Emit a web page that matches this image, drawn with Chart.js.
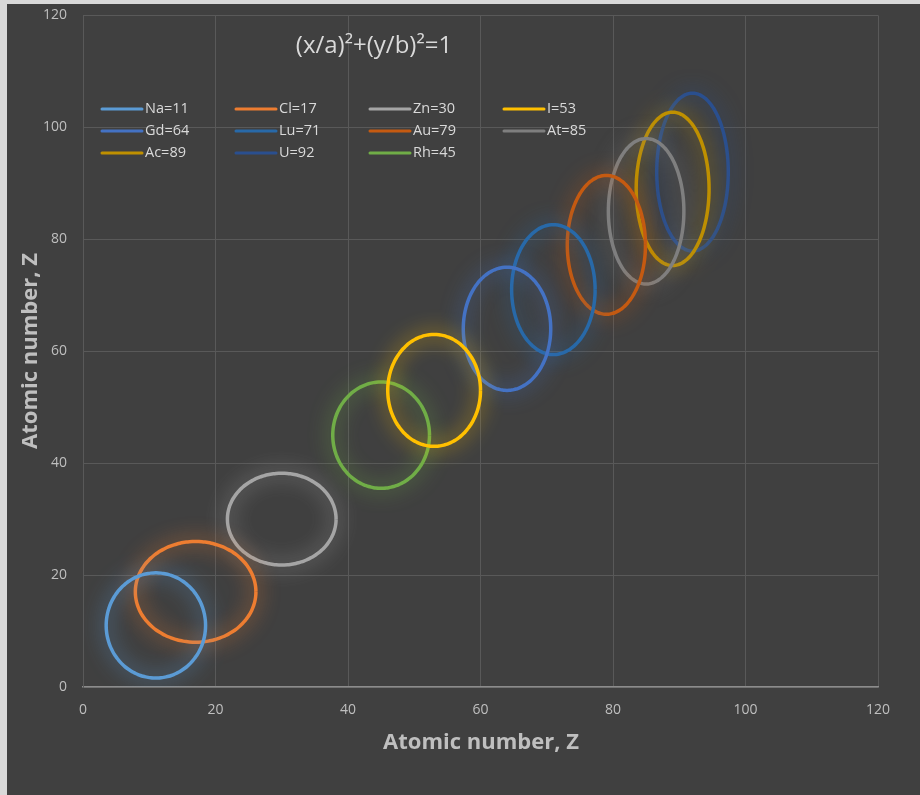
<!doctype html>
<html>
<head>
<meta charset="utf-8" />
<title>Ellipses</title>
<script src="https://cdn.jsdelivr.net/npm/chart.js"></script>
<style>
  html, body { margin: 0; padding: 0; background: #d9d9d9; }
  #wrap { position: absolute; left: 7px; top: 4px; width: 913px; height: 791px; background: #404040; }
</style>
</head>
<body>
<div id="wrap"><canvas id="chart" width="913" height="791"></canvas></div>
<script>
// series: centre (Z, Z), semi-axes a (x) and b (y)
const names  = ['Na=11', 'Cl=17', 'Zn=30', 'I=53', 'Gd=64', 'Lu=71', 'Au=79', 'At=85', 'Ac=89', 'U=92', 'Rh=45'];
const centerZ = [11, 17, 30, 53, 64, 71, 79, 85, 89, 92, 45];
const semiA  = [7.5, 9.1, 8.2, 7.0, 6.6, 6.3, 5.9, 5.7, 5.5, 5.4, 7.3];
const semiB  = [9.4, 9.0, 8.2, 10.0, 11.0, 11.6, 12.4, 13.0, 13.7, 14.1, 9.5];
const colors = ['#5B9BD5', '#ED7D31', '#A5A5A5', '#FFC000', '#4472C4', '#2869A8', '#C55A11', '#7F7F7F', '#BF9000', '#2A4F8F', '#70AD47'];
const axisTicks = [0, 20, 40, 60, 80, 100, 120];

const FONT = '"Open Sans", "Noto Sans", sans-serif';

function ellipse(i) {
  const pts = [];
  for (let k = 0; k <= 120; k++) {
    const t = k / 120 * 2 * Math.PI;
    pts.push({ x: centerZ[i] + semiA[i] * Math.cos(t), y: centerZ[i] + semiB[i] * Math.sin(t) });
  }
  return pts;
}

const datasets = names.map((n, i) => ({
  label: n,
  data: ellipse(i),
  borderColor: colors[i],
  borderWidth: 3.5,
  showLine: true,
  tension: 0.2,
  pointRadius: 0,
  fill: false
}));

// soft glow round each ellipse, like the Excel effect
const glow = {
  id: 'glow',
  beforeDatasetDraw(chart, args) {
    const c = chart.ctx;
    c.save();
    c.shadowColor = colors[args.index];
    c.shadowBlur = 20;
  },
  afterDatasetDraw(chart) {
    chart.ctx.restore();
  }
};

const decor = {
  id: 'decor',
  afterDraw(chart) {
    const c = chart.ctx;
    c.save();
    // formula
    c.fillStyle = '#d9d9d9';
    c.font = '24px ' + FONT;
    c.textAlign = 'center';
    c.textBaseline = 'middle';
    c.fillText('(x/a)²+(y/b)²=1', 367, 42);
    // legend, 4 columns
    c.font = '14.5px ' + FONT;
    c.textAlign = 'left';
    names.forEach((n, i) => {
      const col = i % 4, row = Math.floor(i / 4);
      const x = 95 + col * 134, y = 105 + row * 22;
      c.strokeStyle = colors[i];
      c.lineWidth = 3;
      c.lineCap = 'round';
      c.beginPath();
      c.moveTo(x, y);
      c.lineTo(x + 40, y);
      c.stroke();
      c.fillStyle = '#d9d9d9';
      c.fillText(n, x + 43, y);
    });
    // axis titles
    c.fillStyle = '#bfbfbf';
    c.font = 'bold 22px ' + FONT;
    c.textAlign = 'center';
    c.fillText('Atomic number, Z', 474, 739);
    c.translate(24, 347);
    c.rotate(-Math.PI / 2);
    c.fillText('Atomic number, Z', 0, 0);
    c.restore();
  }
};

new Chart(document.getElementById('chart'), {
  type: 'scatter',
  data: { datasets },
  options: {
    responsive: false,
    animation: false,
    layout: { padding: { top: 2, right: 42, left: 0, bottom: 0 } },
    plugins: { legend: { display: false }, tooltip: { enabled: false } },
    scales: {
      x: {
        min: 0, max: 120,
        afterBuildTicks: s => { s.ticks = axisTicks.map(v => ({ value: v })); },
        afterFit: s => { s.height = 108; },
        grid: { color: '#595959', lineWidth: 1, drawTicks: false },
        border: { color: '#8c8c8c', width: 1.5 },
        ticks: { color: '#bfbfbf', font: { family: FONT, size: 14 }, padding: 15, maxRotation: 0 }
      },
      y: {
        min: 0, max: 120,
        afterBuildTicks: s => { s.ticks = axisTicks.map(v => ({ value: v })); },
        afterFit: s => { s.width = 76; },
        grid: { color: '#595959', lineWidth: 1, drawTicks: true, tickLength: 13, tickColor: 'rgba(0,0,0,0)' },
        border: { color: '#595959' },
        ticks: { color: '#bfbfbf', font: { family: FONT, size: 14 }, padding: 3 }
      }
    }
  },
  plugins: [glow, decor]
});
</script>
</body>
</html>
